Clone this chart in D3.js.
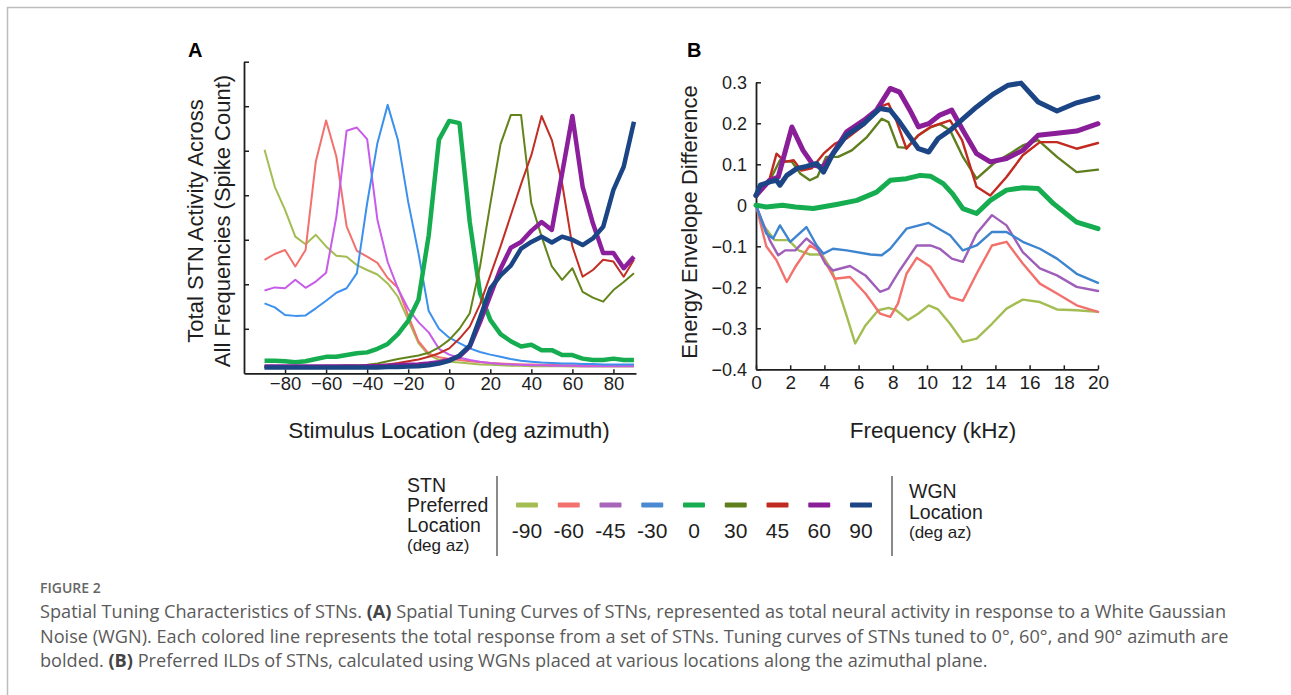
<!DOCTYPE html>
<html lang="en">
<head>
  <meta charset="UTF-8">
  <title>Figure 2 - Spatial Tuning Characteristics of STNs</title>
  <script src="https://d3js.org/d3.v7.min.js"></script>
  <style>
    body { margin: 0; background: #fff; }
    svg text { font-family: "Liberation Sans", Arial, sans-serif; }
    svg text.caption { font-family: "Open Sans", sans-serif; }
  </style>
</head>
<body>
<script>
  // ---- data, panel A: azimuth (deg) vs total activity (tick units, no labels)
  const azimuths = [-90, -85, -80, -75, -70, -65, -60, -55, -50, -45, -40, -35, -30, -25, -20, -15, -10, -5, 0,
                    5, 10, 15, 20, 25, 30, 35, 40, 45, 50, 55, 60, 65, 70, 75, 80, 85, 90];
  const tuneNeg90 = [5.02,4.19,3.67,3.07,2.9,3.11,2.85,2.64,2.62,2.43,2.32,2.22,2.02,1.72,1.2,0.68,0.41,0.3,0.26,0.24,0.22,0.2,0.19,0.18,0.17,0.17,0.16,0.16,0.16,0.16,0.15,0.15,0.15,0.15,0.15,0.15,0.15];
  const tuneNeg60 = [2.55,2.68,2.77,2.4,2.77,4.76,5.68,4.87,3.3,2.75,2.62,2.48,2.14,1.92,1.3,0.72,0.44,0.36,0.32,0.3,0.27,0.25,0.23,0.22,0.21,0.2,0.2,0.19,0.19,0.18,0.18,0.18,0.17,0.17,0.17,0.17,0.17];
  const tuneNeg45 = [1.86,1.93,1.91,2.1,1.92,2.06,2.26,3.52,5.45,5.52,5.26,3.45,2.5,1.9,1.45,1.15,0.92,0.55,0.42,0.35,0.3,0.26,0.23,0.21,0.2,0.19,0.18,0.18,0.17,0.17,0.17,0.16,0.16,0.16,0.16,0.16,0.16];
  const tuneNeg30 = [1.57,1.48,1.31,1.29,1.3,1.46,1.63,1.81,1.91,2.25,3.82,5.17,6.03,5.24,3.85,2.7,1.4,1.0,0.8,0.68,0.56,0.48,0.42,0.37,0.32,0.28,0.26,0.24,0.23,0.22,0.22,0.21,0.21,0.2,0.2,0.2,0.2];
  const tune0     = [0.28,0.28,0.27,0.25,0.27,0.32,0.37,0.37,0.41,0.45,0.47,0.55,0.66,0.88,1.18,1.65,3.1,5.25,5.67,5.62,3.4,1.8,1.2,0.88,0.72,0.6,0.64,0.52,0.52,0.41,0.41,0.33,0.3,0.3,0.33,0.3,0.3];
  const tune30    = [0.15,0.15,0.15,0.16,0.16,0.16,0.17,0.17,0.18,0.18,0.19,0.22,0.27,0.32,0.36,0.4,0.46,0.58,0.75,1.0,1.35,2.4,3.8,5.15,5.8,5.8,3.82,3.07,2.4,2.1,2.36,1.83,1.7,1.61,1.87,2.05,2.25];
  const tune45    = [0.14,0.14,0.14,0.14,0.15,0.15,0.15,0.15,0.16,0.16,0.17,0.18,0.2,0.23,0.27,0.31,0.37,0.45,0.56,0.78,1.05,1.55,2.2,2.85,3.55,4.25,4.9,5.78,5.24,4.27,2.85,2.17,2.32,2.55,2.51,2.17,2.55];
  const tune60    = [0.15,0.15,0.15,0.15,0.15,0.15,0.15,0.15,0.15,0.15,0.16,0.16,0.17,0.18,0.19,0.2,0.22,0.25,0.3,0.38,0.6,1.15,1.75,2.35,2.82,2.95,3.2,3.4,3.22,4.49,5.78,4.19,3.37,2.7,2.7,2.36,2.62];
  const tune90    = [0.13,0.13,0.13,0.13,0.13,0.13,0.13,0.13,0.13,0.13,0.13,0.13,0.14,0.14,0.15,0.16,0.18,0.22,0.28,0.4,0.62,1.25,1.9,2.2,2.42,2.8,2.95,3.07,2.94,3.07,3.0,2.88,3.03,3.29,4.12,4.64,5.65];

  // ---- data, panel B: [frequency kHz, energy envelope difference]
  const envNeg90 = [[0,0],[0.45,-0.05],[1.1,-0.085],[1.9,-0.085],[2.5,-0.11],[3.15,-0.12],[3.85,-0.12],[4.45,-0.16],[5.2,-0.256],[5.8,-0.337],[6.4,-0.293],[7.15,-0.256],[7.75,-0.25],[8.2,-0.256],[8.9,-0.28],[9.5,-0.264],[10.1,-0.244],[10.65,-0.254],[11.35,-0.289],[12.1,-0.333],[12.9,-0.325],[13.8,-0.289],[14.65,-0.252],[15.6,-0.23],[16.6,-0.236],[17.6,-0.254],[18.75,-0.256],[20,-0.26]];
  const envNeg60 = [[0,0],[0.6,-0.1],[1.2,-0.134],[1.8,-0.187],[2.3,-0.15],[3.15,-0.098],[3.65,-0.11],[4.15,-0.146],[4.6,-0.179],[5.5,-0.175],[6.4,-0.215],[7.25,-0.264],[7.85,-0.272],[8.3,-0.24],[8.8,-0.167],[9.4,-0.128],[10.2,-0.15],[11.35,-0.224],[12.1,-0.233],[12.9,-0.167],[13.8,-0.098],[14.65,-0.089],[15.6,-0.142],[16.6,-0.191],[17.6,-0.215],[18.75,-0.244],[20,-0.26]];
  const envNeg45 = [[0,0],[0.8,-0.085],[1.3,-0.122],[1.7,-0.11],[2.3,-0.11],[2.95,-0.081],[3.55,-0.102],[4.05,-0.142],[4.5,-0.159],[5.5,-0.148],[6.4,-0.171],[7.25,-0.211],[7.75,-0.203],[8.4,-0.159],[9.4,-0.098],[10.2,-0.098],[10.75,-0.106],[11.45,-0.13],[12.1,-0.138],[12.9,-0.069],[13.8,-0.024],[14.65,-0.049],[15.6,-0.114],[16.6,-0.154],[17.6,-0.171],[18.75,-0.199],[20,-0.209]];
  const envNeg30 = [[0,0],[0.6,-0.069],[1.0,-0.081],[1.4,-0.049],[2.0,-0.089],[2.95,-0.053],[3.55,-0.098],[3.95,-0.118],[4.5,-0.106],[5.3,-0.11],[6.7,-0.12],[7.35,-0.122],[7.85,-0.106],[8.8,-0.057],[10.1,-0.043],[11.35,-0.073],[12.1,-0.11],[12.9,-0.098],[13.8,-0.065],[14.65,-0.065],[15.6,-0.089],[16.6,-0.106],[17.6,-0.13],[18.75,-0.167],[20,-0.189]];
  const env0     = [[0,0],[0.6,-0.004],[1.55,0],[2.3,-0.004],[3.35,-0.008],[4.7,0.002],[5.9,0.012],[7.05,0.032],[7.85,0.061],[8.8,0.065],[9.6,0.073],[10.2,0.071],[10.95,0.053],[11.5,0.028],[12.1,-0.008],[12.9,-0.02],[13.7,0.012],[14.65,0.037],[15.6,0.043],[16.5,0.041],[17.4,0.004],[18.75,-0.041],[20,-0.057]];
  const env30    = [[0,0.02],[0.8,0.06],[1.4,0.11],[2.1,0.106],[2.6,0.077],[3.15,0.061],[3.6,0.07],[4.1,0.118],[4.8,0.118],[5.6,0.134],[6.5,0.167],[7.35,0.211],[7.75,0.203],[8.3,0.142],[8.8,0.14],[9.5,0.171],[10.2,0.19],[10.75,0.198],[11.35,0.183],[12.1,0.118],[12.9,0.065],[13.9,0.102],[14.85,0.126],[15.6,0.146],[16.5,0.159],[17.6,0.118],[18.75,0.081],[20,0.087]];
  const env45    = [[0,0.02],[0.8,0.065],[1.2,0.126],[1.7,0.106],[2.2,0.11],[2.65,0.085],[3.25,0.09],[3.95,0.126],[4.6,0.15],[5.3,0.163],[6.3,0.195],[7.25,0.24],[7.75,0.248],[8.2,0.207],[8.8,0.138],[9.5,0.171],[10.2,0.191],[11.35,0.207],[12.05,0.159],[12.9,0.045],[13.7,0.024],[14.65,0.069],[15.6,0.122],[16.6,0.154],[17.6,0.154],[18.75,0.138],[20,0.152]];
  const env60    = [[0,0.024],[0.8,0.061],[1.3,0.069],[2.1,0.191],[2.75,0.134],[3.35,0.098],[3.9,0.093],[4.5,0.126],[5.3,0.179],[6.3,0.207],[7.05,0.232],[7.85,0.285],[8.4,0.276],[9.0,0.232],[9.5,0.191],[10.1,0.199],[10.75,0.22],[11.45,0.232],[12.1,0.183],[12.9,0.126],[13.7,0.106],[14.65,0.114],[15.6,0.134],[16.5,0.171],[17.6,0.176],[18.75,0.181],[20,0.199]];
  const env90    = [[0,0.024],[0.25,0.049],[0.8,0.057],[1.2,0.061],[1.4,0.049],[1.8,0.073],[2.4,0.09],[2.95,0.095],[3.55,0.102],[3.95,0.081],[4.5,0.126],[5.3,0.171],[6.3,0.199],[7.25,0.236],[7.85,0.232],[8.4,0.203],[9.0,0.167],[9.5,0.138],[10.1,0.13],[10.65,0.163],[11.35,0.183],[12.1,0.211],[12.9,0.24],[13.9,0.272],[14.75,0.293],[15.5,0.298],[16.5,0.252],[17.6,0.23],[18.75,0.25],[20,0.264]];

  // legend / series labels
  const locations = ['-90', '-60', '-45', '-30', '0', '30', '45', '60', '90'];
  const boldLocations = ['0', '60', '90'];
  const colorsA = ['#a3bd52', '#f2716d', '#c75ce9', '#3c90ee', '#15ad4f', '#63841a', '#c22e24', '#8c1f9b', '#1b4585'];
  const colorsB = ['#a3bd52', '#f2716d', '#9e5eb9', '#3e84cf', '#15ad4f', '#5f7f1e', '#c12a20', '#8a1d98', '#1b4585'];
  const colorsLegend = ['#a3bd52', '#f2716d', '#a965ba', '#4b8ad2', '#15ad4f', '#5f7f1e', '#c12a20', '#8a1d98', '#1b4585'];

  const seriesA = [tuneNeg90, tuneNeg60, tuneNeg45, tuneNeg30, tune0, tune30, tune45, tune60, tune90];
  const seriesB = [envNeg90, envNeg60, envNeg45, envNeg30, env0, env30, env45, env60, env90];

  const captionLines = [
    'Spatial Tuning Characteristics of STNs. |(A)| Spatial Tuning Curves of STNs, represented as total neural activity in response to a White Gaussian',
    'Noise (WGN). Each colored line represents the total response from a set of STNs. Tuning curves of STNs tuned to 0°, 60°, and 90° azimuth are',
    'bolded. |(B)| Preferred ILDs of STNs, calculated using WGNs placed at various locations along the azimuthal plane.'
  ];

  const ink = '#1e1e1e';

  const svg = d3.select('body').append('svg')
    .attr('width', 1291)
    .attr('height', 695);

  // frame
  svg.append('path')
    .attr('d', 'M7.5,695 V7.5 H1291')
    .attr('fill', 'none')
    .attr('stroke', '#bdbdbd')
    .attr('stroke-width', 1.5);

  function styleAxis(g, fontSize) {
    g.select('.domain').attr('stroke', ink).attr('stroke-width', 1.8);
    g.selectAll('.tick line').attr('stroke', ink).attr('stroke-width', 1.5);
    g.selectAll('.tick text').attr('font-size', fontSize).attr('fill', ink);
  }

  // ---------------- Panel A ----------------
  const xA = d3.scaleLinear().domain([-100, 91]).range([244, 636]);
  const yA = d3.scaleLinear().domain([0, 7]).range([373.3, 61.7]);

  const axA_x = svg.append('g')
    .attr('transform', 'translate(0,' + yA(0) + ')')
    .call(d3.axisBottom(xA).tickValues([-80, -60, -40, -20, 0, 20, 40, 60, 80])
      .tickSizeInner(-4).tickSizeOuter(0).tickPadding(4));
  styleAxis(axA_x, 18.5);

  const axA_y = svg.append('g')
    .attr('transform', 'translate(' + xA(-100) + ',0)')
    .call(d3.axisLeft(yA).tickValues([1, 2, 3, 4, 5, 6, 7])
      .tickSizeInner(-5).tickSizeOuter(0).tickFormat(''));
  styleAxis(axA_y, 18.5);

  const lineA = d3.line()
    .x((d, i) => xA(azimuths[i]))
    .y(d => yA(d));

  seriesA.forEach((vals, i) => {
    svg.append('path')
      .datum(vals)
      .attr('d', lineA)
      .attr('fill', 'none')
      .attr('stroke', colorsA[i])
      .attr('stroke-width', boldLocations.includes(locations[i]) ? 4.5 : 2)
      .attr('stroke-linejoin', 'round');
  });

  svg.append('text').attr('x', 188).attr('y', 57)
    .attr('font-size', 20).attr('font-weight', 'bold').attr('fill', '#000').text('A');

  svg.append('text')
    .attr('x', 449).attr('y', 438)
    .attr('text-anchor', 'middle')
    .attr('font-size', 22.5)
    .attr('fill', ink)
    .text('Stimulus Location (deg azimuth)');

  svg.append('text')
    .attr('transform', 'translate(203,221) rotate(-90)')
    .attr('text-anchor', 'middle')
    .attr('font-size', 22)
    .attr('fill', ink)
    .text('Total STN Activity Across');
  svg.append('text')
    .attr('transform', 'translate(230,221) rotate(-90)')
    .attr('text-anchor', 'middle')
    .attr('font-size', 22)
    .attr('fill', ink)
    .text('All Frequencies (Spike Count)');

  // ---------------- Panel B ----------------
  const xB = d3.scaleLinear().domain([0, 20]).range([756, 1098]);
  const yB = d3.scaleLinear().domain([-0.4, 0.3]).range([369.3, 82.3]);

  const axB_x = svg.append('g')
    .attr('transform', 'translate(0,' + yB(-0.4) + ')')
    .call(d3.axisBottom(xB).tickValues([0, 2, 4, 6, 8, 10, 12, 14, 16, 18, 20])
      .tickSizeInner(-4).tickSizeOuter(0).tickPadding(6));
  styleAxis(axB_x, 19);

  const axB_y = svg.append('g')
    .attr('transform', 'translate(' + xB(0) + ',0)')
    .call(d3.axisLeft(yB).tickValues([-0.4, -0.3, -0.2, -0.1, 0, 0.1, 0.2, 0.3])
      .tickSizeInner(-5).tickSizeOuter(0).tickPadding(9)
      .tickFormat(d => d === 0 ? '0' : d3.format('.1f')(d)));
  styleAxis(axB_y, 18);

  const lineB = d3.line()
    .x(d => xB(d[0]))
    .y(d => yB(d[1]));

  seriesB.forEach((pts, i) => {
    svg.append('path')
      .datum(pts)
      .attr('d', lineB)
      .attr('fill', 'none')
      .attr('stroke', colorsB[i])
      .attr('stroke-width', boldLocations.includes(locations[i]) ? 5 : 2.4)
      .attr('stroke-linejoin', 'round')
      .attr('stroke-linecap', 'round');
  });

  svg.append('text').attr('x', 687).attr('y', 57)
    .attr('font-size', 20).attr('font-weight', 'bold').attr('fill', '#000').text('B');

  svg.append('text')
    .attr('x', 933).attr('y', 438)
    .attr('text-anchor', 'middle')
    .attr('font-size', 22.5)
    .attr('fill', ink)
    .text('Frequency (kHz)');

  svg.append('text')
    .attr('transform', 'translate(697,222) rotate(-90)')
    .attr('text-anchor', 'middle')
    .attr('font-size', 22)
    .attr('fill', ink)
    .text('Energy Envelope Difference');

  // ---------------- Legend ----------------
  const legX = d3.scalePoint().domain(locations).range([527, 861]);

  [['STN', 492, 19.5], ['Preferred', 512, 19.5], ['Location', 532, 19.5], ['(deg az)', 551, 17]]
    .forEach(([t, y, fs]) => {
      svg.append('text').attr('x', 407).attr('y', y).attr('font-size', fs).attr('fill', ink).text(t);
    });

  svg.append('line').attr('x1', 497).attr('x2', 497).attr('y1', 476).attr('y2', 556)
    .attr('stroke', '#8a8a8a').attr('stroke-width', 2);
  svg.append('line').attr('x1', 892).attr('x2', 892).attr('y1', 476).attr('y2', 556)
    .attr('stroke', '#8a8a8a').attr('stroke-width', 2);

  const legItem = svg.selectAll('.leg')
    .data(locations)
    .enter().append('g')
    .attr('class', 'leg')
    .attr('transform', d => 'translate(' + legX(d) + ',0)');
  legItem.append('rect')
    .attr('x', -11).attr('y', 502.5).attr('width', 22).attr('height', 5).attr('rx', 1)
    .attr('fill', (d, i) => colorsLegend[i]);
  legItem.append('text')
    .attr('y', 538)
    .attr('text-anchor', 'middle')
    .attr('font-size', 21)
    .attr('fill', ink)
    .text(d => d);

  [['WGN', 498, 19.5], ['Location', 519, 19.5], ['(deg az)', 538, 17]]
    .forEach(([t, y, fs]) => {
      svg.append('text').attr('x', 909).attr('y', y).attr('font-size', fs).attr('fill', ink).text(t);
    });

  // ---------------- Caption ----------------
  svg.append('text')
    .attr('class', 'caption')
    .attr('x', 40).attr('y', 593)
    .attr('font-size', 14)
    .attr('font-weight', 600)
    .attr('fill', '#666')
    .text('FIGURE 2');

  captionLines.forEach((line, li) => {
    const t = svg.append('text')
      .attr('class', 'caption')
      .attr('x', 40).attr('y', 618 + li * 24.5)
      .attr('font-size', 18.15)
      .attr('fill', '#5a5a5a');
    line.split('|').forEach((part, k) => {
      t.append('tspan')
        .attr('font-weight', k % 2 === 1 ? 700 : 400)
        .attr('fill', k % 2 === 1 ? '#444' : '#5a5a5a')
        .text(part);
    });
  });
</script>
</body>
</html>
